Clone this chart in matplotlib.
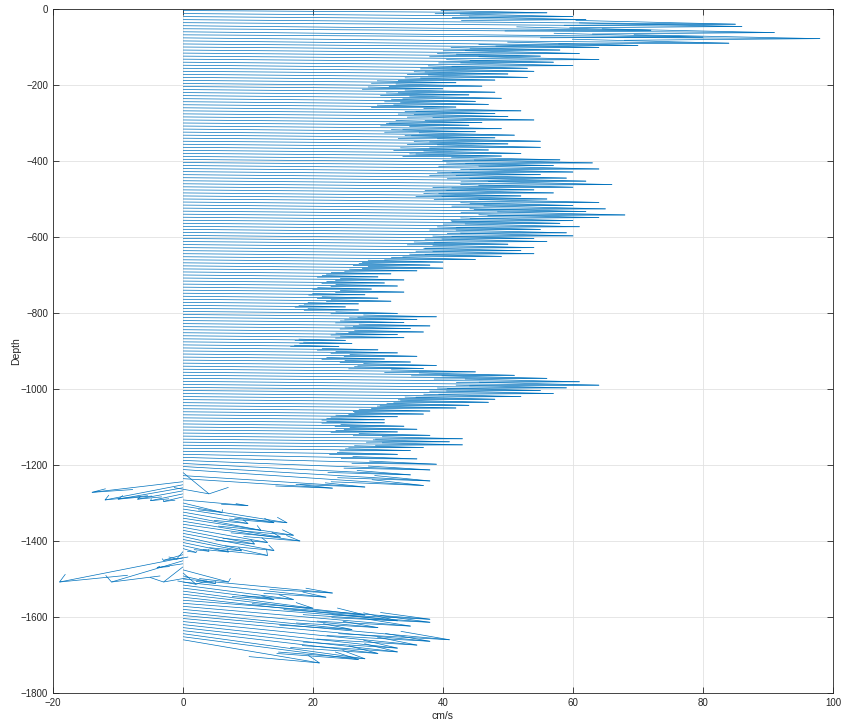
import numpy as np
import matplotlib
matplotlib.use("Agg")
import matplotlib.pyplot as plt
from matplotlib.collections import LineCollection

plt.rcParams['font.family'] = ['Liberation Sans', 'DejaVu Sans']

# start depth of each profile bin (m)
depth = np.arange(-4, -1661, -8)

# horizontal velocity component (cm/s), one per bin
u_vals = [
    56, 60, 62, 85, 86, 72, 91, 80, 98, 84, 70, 64, 58,
    61, 55, 64, 57, 60, 53, 54, 50, 53, 48, 42, 46, 40,
    48, 44, 49, 45, 47, 42, 52, 48, 50, 54, 46, 44, 49,
    45, 51, 48, 55, 50, 55, 47, 52, 49, 58, 63, 57, 64,
    60, 55, 59, 62, 66, 60, 54, 57, 52, 56, 64, 60, 65,
    62, 68, 64, 60, 58, 61, 55, 59, 60, 54, 56, 50, 54,
    52, 54, 49, 45, 40, 38, 40, 36, 32, 30, 34, 31, 33,
    29, 34, 28, 30, 32, 27, 25, 27, 33, 39, 36, 34, 38,
    35, 37, 33, 34, 25, 26, 24, 30, 33, 36, 31, 35, 39,
    37, 45, 51, 56, 61, 64, 59, 55, 57, 52, 48, 47, 44,
    42, 38, 37, 33, 31, 31, 34, 36, 33, 38, 43, 41, 43,
    37, 35, 33, 36, 39, 38, 35, 38, 37,
    # disturbed layer
    4, 28, 23, -14, -12, -10, -7, -5, -3, 10, 6, 16, 14, 10, 12, 17, 15, 18,
    13, 11, 14, 13, 9, 7, 4, 2, -1, -3, -19, -11, -4, -3, 7, 2, 5,
    # deepest bins
    23, 22, 17, 14, 20, 28, 33, 38, 38, 35, 30, 26, 41, 38, 36, 33, 33, 30,
    28, 27, 21,
]

# vertical component, drawn in depth units
v_vals = [
    -6, -8, -8, -12, -10, -12, -10, -14, -10, -14, -12, -9, -8,
    -9, -8, -9, -8, -9, -8, -8, -7, -8, -7, -6, -7, -6,
    -7, -6, -7, -7, -7, -6, -8, -7, -7, -8, -7, -6, -7,
    -7, -8, -7, -8, -7, -8, -7, -8, -7, -9, -9, -8, -9,
    -9, -8, -9, -9, -10, -9, -8, -8, -8, -8, -9, -9, -10,
    -9, -10, -9, -9, -8, -9, -8, -9, -9, -8, -8, -7, -8,
    -8, -8, -7, -7, -6, -6, -6, -5, -5, -5, -5, -5, -5,
    -5, -5, -4, -5, -5, -4, -4, -4, -5, -6, -5, -5, -6,
    -5, -6, -5, -5, -4, -4, -4, -5, -5, -6, -5, -5, -6,
    -6, -7, -8, -8, -9, -10, -9, -8, -8, -8, -7, -7, -7,
    -6, -6, -6, -5, -5, -5, -6, -6, -5, -6, -7, -7, -7,
    -6, -6, -8, -12, -18, -25, -30, -38, -42,
    # disturbed layer
    -56, -30, -25, -28, -40, -30, -22, -18, -12, -15, -25, -44, -36, -30, -40, -45, -42, -44,
    -40, -36, -45, -50, -30, -25, -15, -10, -20, -15, -64, -56, -10, -40, -32, -30, -20,
    # deepest bins
    -37, -40, -38, -30, -45, -55, -62, -50, -50, -52, -48, -45, -64, -60, -62, -62, -64, -60,
    -66, -60, -61,
]

xticks = [-20, 0, 20, 40, 60, 80, 100]
yticks = [-1800, -1600, -1400, -1200, -1000, -800, -600, -400, -200, 0]

u = np.array(u_vals, dtype=float)
v = np.array(v_vals, dtype=float)
n = min(len(depth), len(u), len(v))
depth, u, v = depth[:n], u[:n], v[:n]
x0 = np.zeros(n)

# MATLAB-style quiver: shaft + two head strokes
alpha, beta = 0.3, 0.25
tipx, tipy = x0 + u, depth + v
h1x = tipx - alpha * (u + beta * v)
h1y = tipy - alpha * (v - beta * u)
h2x = tipx - alpha * (u - beta * v)
h2y = tipy - alpha * (v + beta * u)

segs = []
for i in range(n):
    segs.append([(x0[i], depth[i]), (tipx[i], tipy[i])])
    segs.append([(h1x[i], h1y[i]), (tipx[i], tipy[i]), (h2x[i], h2y[i])])

fig = plt.figure(figsize=(8.43, 7.26), dpi=100)
ax = fig.add_axes([0.0629, 0.0455, 0.9252, 0.9421])

lc = LineCollection(segs, colors='#0072BD', linewidths=0.5, zorder=3)
ax.add_collection(lc)

ax.set_xlim(-20, 100)
ax.set_ylim(-1800, 0)
ax.set_xticks(xticks)
ax.set_yticks(yticks)
ax.grid(True, color='#E2E2E2', linewidth=0.6, zorder=0)
ax.set_axisbelow(True)
for s in ax.spines.values():
    s.set_color('#262626')
    s.set_linewidth(0.6)
ax.tick_params(direction='in', length=4, width=0.6, colors='#262626',
               labelsize=7, top=True, right=True, labeltop=False, labelright=False)
ax.set_xlabel('cm/s', fontsize=7.5, color='#262626', labelpad=2)
ax.set_ylabel('Depth', fontsize=7.5, color='#262626', labelpad=0)

fig.savefig('out.png', dpi=100)
